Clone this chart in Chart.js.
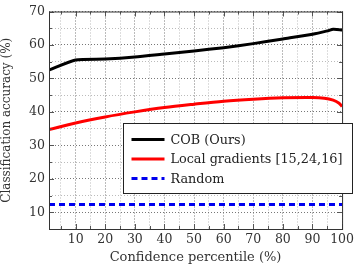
<!DOCTYPE html>
<html>
<head>
<meta charset="utf-8">
<script src="https://cdn.jsdelivr.net/npm/chart.js@4/dist/chart.umd.min.js"></script>
<style>
  html, body { margin: 0; padding: 0; background: #fff; }
  #wrap { width: 357px; height: 265px; }
</style>
</head>
<body>
<div id="wrap"><canvas id="grafica" width="357" height="265"></canvas></div>
<script>
// datos
const percentiles = [1, 10, 20, 30, 40, 50, 60, 70, 80, 90, 95, 97, 100];
const cobOurs = [52.5, 55.5, 55.8, 56.4, 57.3, 58.2, 59.2, 60.4, 61.8, 63.2, 64.2, 64.7, 64.5];

const percentilesLocal = [1, 10, 20, 30, 40, 50, 60, 70, 80, 90, 94, 97, 99, 100];
const localGrad = [34.7, 36.7, 38.5, 40.0, 41.3, 42.3, 43.2, 43.8, 44.2, 44.3, 44.1, 43.5, 42.6, 41.6];

const randomX = [1, 100];
const randomY = [12.3, 12.3];

const serif = '"DejaVu Serif", "Liberation Serif", serif';

function pares(xs, ys) {
    return xs.map((x, i) => ({ x: x, y: ys[i] }));
}

// ticks hacia dentro + leyenda con caja
const marcosPlugin = {
    id: 'marcos',
    afterDraw(chart) {
        const ctx = chart.ctx;
        const a = chart.chartArea;
        const xs = chart.scales.x, ys = chart.scales.y;
        ctx.save();
        ctx.strokeStyle = '#555';
        ctx.lineWidth = 1;
        xs.ticks.forEach(t => {
            if (t.value % 5 !== 0) return;
            const px = Math.round(xs.getPixelForValue(t.value)) + 0.5;
            const len = t.value % 10 === 0 ? 5 : 3;
            ctx.beginPath();
            ctx.moveTo(px, a.bottom); ctx.lineTo(px, a.bottom - len);
            ctx.moveTo(px, a.top); ctx.lineTo(px, a.top + len);
            ctx.stroke();
        });
        ys.ticks.forEach(t => {
            const py = Math.round(ys.getPixelForValue(t.value)) + 0.5;
            const len = t.value % 10 === 0 ? 5 : 3;
            ctx.beginPath();
            ctx.moveTo(a.left, py); ctx.lineTo(a.left + len, py);
            ctx.moveTo(a.right, py); ctx.lineTo(a.right - len, py);
            ctx.stroke();
        });
        // borde
        ctx.strokeStyle = '#333';
        ctx.strokeRect(a.left + 0.5, a.top + 0.5, a.right - a.left, a.bottom - a.top);

        // leyenda
        const bx = 123.5, by = 123.5, bw = 229, bh = 70;
        ctx.fillStyle = '#fff';
        ctx.fillRect(bx, by, bw, bh);
        ctx.strokeStyle = '#222';
        ctx.strokeRect(bx, by, bw, bh);
        ctx.font = '12.8px ' + serif;
        ctx.textBaseline = 'middle';
        chart.data.datasets.forEach((ds, i) => {
            const yy = by + 16 + i * 19.5;
            ctx.strokeStyle = ds.borderColor;
            ctx.lineWidth = 3;
            ctx.setLineDash(ds.borderDash || []);
            ctx.beginPath();
            ctx.moveTo(bx + 8, yy); ctx.lineTo(bx + 41, yy);
            ctx.stroke();
            ctx.setLineDash([]);
            ctx.fillStyle = '#222';
            ctx.fillText(ds.label, bx + 47, yy + 1);
        });
        ctx.restore();
    }
};

const ctx = document.getElementById('grafica').getContext('2d');
new Chart(ctx, {
    type: 'line',
    data: {
        datasets: [{
            label: 'COB (Ours)',
            data: pares(percentiles, cobOurs),
            borderColor: '#000',
            borderWidth: 3,
            pointRadius: 0,
            tension: 0.2
        }, {
            label: 'Local gradients [15,24,16]',
            data: pares(percentilesLocal, localGrad),
            borderColor: '#ff0000',
            borderWidth: 3,
            pointRadius: 0,
            tension: 0.3
        }, {
            label: 'Random',
            data: pares(randomX, randomY),
            borderColor: '#0000ee',
            borderWidth: 3,
            borderDash: [6, 4],
            pointRadius: 0
        }]
    },
    options: {
        responsive: false,
        animation: false,
        layout: { padding: { top: 10, right: 12, left: 0, bottom: 0 } },
        plugins: { legend: { display: false }, tooltip: { enabled: false } },
        scales: {
            x: {
                type: 'linear',
                min: 1, max: 100,
                afterFit: s => { s.height = 36; },
                ticks: {
                    stepSize: 5,
                    autoSkip: false,
                    maxRotation: 0,
                    color: '#333',
                    padding: 3,
                    font: { family: serif, size: 12.5 },
                    callback: v => (v % 10 === 0 && v > 0) ? v : ''
                },
                grid: {
                    drawTicks: false,
                    color: c => (c.tick && c.tick.value % 10 === 0) ? '#777' : '#bbb',
                    lineWidth: 1
                },
                border: { display: false, dash: [1, 2] },
                title: {
                    display: true,
                    text: 'Confidence percentile (%)',
                    color: '#333',
                    font: { family: serif, size: 13 },
                    padding: { top: 0, bottom: 0 }
                }
            },
            y: {
                min: 5, max: 70,
                afterFit: s => { s.width = 49; },
                ticks: {
                    stepSize: 5,
                    autoSkip: false,
                    color: '#333',
                    padding: 4,
                    font: { family: serif, size: 12.5 },
                    callback: v => v % 10 === 0 ? v : ''
                },
                grid: {
                    drawTicks: false,
                    color: c => (c.tick && c.tick.value % 10 === 0) ? '#777' : '#bbb',
                    lineWidth: 1
                },
                border: { display: false, dash: [1, 2] },
                title: {
                    display: true,
                    text: 'Classification accuracy (%)',
                    color: '#333',
                    font: { family: serif, size: 12 },
                    padding: { top: 0, bottom: 2 }
                }
            }
        }
    },
    plugins: [marcosPlugin]
});
</script>
</body>
</html>
